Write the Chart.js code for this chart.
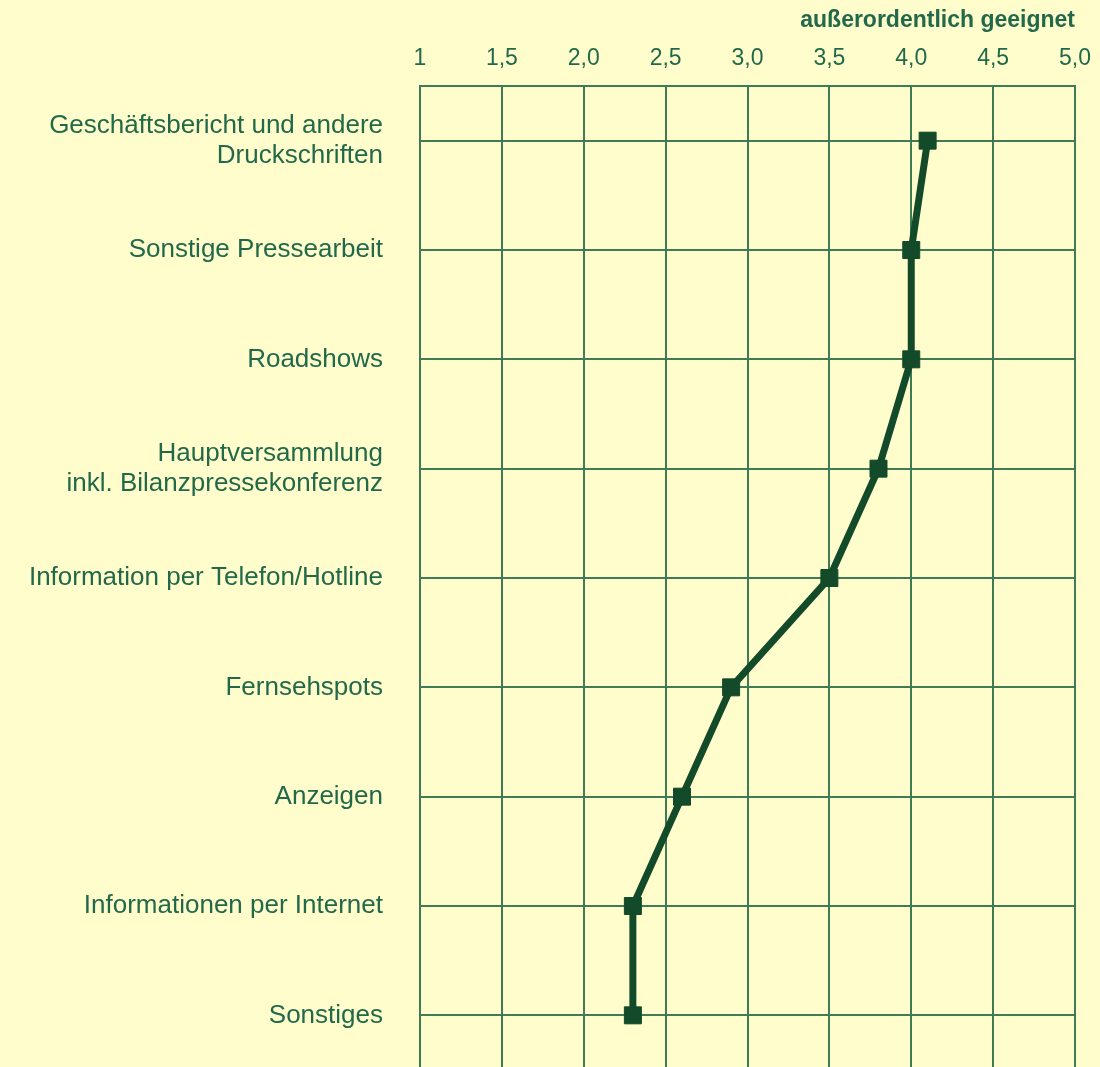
<html>
<head>
    <meta charset="utf-8" />
    <script src="https://cdn.jsdelivr.net/npm/chart.js"></script>
    <title>Kommunikationsinstrumente</title>
    <style>
        body { margin: 0; background: #fffdcb; overflow: hidden; }
    </style>
</head>
<body>
    <canvas id="c1" width="1100" height="1083"></canvas>
    <script>
        "use strict";

        // categories, top to bottom
        let labels = [
            ["Geschäftsbericht und andere", "Druckschriften"],
            "Sonstige Pressearbeit",
            "Roadshows",
            ["Hauptversammlung", "inkl. Bilanzpressekonferenz"],
            "Information per Telefon/Hotline",
            "Fernsehspots",
            "Anzeigen",
            "Informationen per Internet",
            "Sonstiges"
        ];
        let values = [4.1, 4.0, 4.0, 3.8, 3.5, 2.9, 2.6, 2.3, 2.3];
        let xTicks = ["1", "1,5", "2,0", "2,5", "3,0", "3,5", "4,0", "4,5", "5,0"];
        let topTitle = "außerordentlich geeignet";

        let txt = "#21694a";
        let gridCol = "#3e7b56";
        let lineCol = "#134a29";
        let fam = "'Liberation Sans', Arial, sans-serif";

        let params =
        {
            type: 'line',
            data: {
                labels: labels,
                datasets: [
                    {
                        data: values,
                        borderColor: lineCol,
                        borderWidth: 7,
                        tension: 0,
                        pointStyle: 'rect',
                        pointRadius: 12,
                        pointBorderWidth: 1,
                        pointBackgroundColor: lineCol,
                        pointBorderColor: lineCol
                    }]
            },
            options: {
                indexAxis: 'y',
                responsive: false,
                animation: false,
                layout: { padding: { left: 0, right: 25, top: 0, bottom: 5 } },
                plugins: {
                    legend: { display: false },
                    tooltip: { enabled: false }
                },
                scales: {
                    x: {
                        type: 'linear',
                        position: 'top',
                        min: 1,
                        max: 5,
                        afterFit: s => { s.height = 86; s.paddingLeft = 0; s.paddingRight = 0; },
                        ticks: {
                            stepSize: 0.5,
                            padding: 14,
                            color: txt,
                            maxRotation: 0,
                            font: { family: fam, size: 23 },
                            callback: (v, i) => xTicks[i]
                        },
                        title: {
                            display: true,
                            text: topTitle,
                            align: 'end',
                            color: txt,
                            padding: { top: 7, bottom: 0 },
                            font: { family: fam, size: 23, weight: 'bold' }
                        },
                        grid: { color: gridCol, lineWidth: 2, drawTicks: false },
                        border: { color: gridCol, width: 2 }
                    },
                    y: {
                        type: 'category',
                        offset: true,
                        afterFit: s => { s.width = 420; s.paddingTop = 0; s.paddingBottom = 0; },
                        ticks: {
                            padding: 37,
                            color: txt,
                            font: { family: fam, size: 26, lineHeight: 1.15 }
                        },
                        grid: { color: gridCol, lineWidth: 2, drawTicks: false, offset: false },
                        border: { color: gridCol, width: 2 }
                    }
                }
            }
        };

        let c1 = document.querySelector("#c1");
        let chart1 = new Chart(c1, params);
    </script>
</body>
</html>
